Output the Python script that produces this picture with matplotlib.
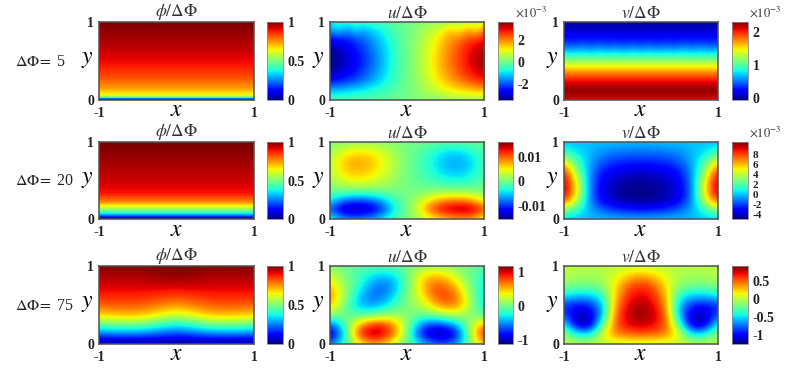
import numpy as np
import matplotlib
matplotlib.use('Agg')
import matplotlib.pyplot as plt
from matplotlib.cm import ScalarMappable
from matplotlib.colors import Normalize

plt.rcParams['font.family'] = ['Liberation Serif', 'DejaVu Serif']
plt.rcParams['mathtext.fontset'] = 'stix'

W, H = 789, 379

row_labels = ['5', '20', '75']
titles = [r'$\phi/\Delta\Phi$', r'$u/\Delta\Phi$', r'$v/\Delta\Phi$']

phi1_y = [0, 0.01, 0.02, 0.04, 0.065, 0.16, 0.3, 0.46, 0.7, 1.0]
phi1_v = [0, 0.1, 0.25, 0.5, 0.64, 0.75, 0.83, 0.89, 0.95, 1.0]
phi2_y = [0, 0.02, 0.07, 0.115, 0.17, 0.225, 0.34, 0.49, 0.7, 0.96, 1.0]
phi2_v = [0, 0.11, 0.35, 0.5, 0.64, 0.77, 0.89, 0.93, 0.96, 1.0, 1.0]

# grids below: first row is y=1, last row is y=0
phi3 = [
    [1.0] * 13,
    [0.97, 0.96, 0.96, 0.965, 0.97, 0.98, 0.99, 0.98, 0.97, 0.965, 0.96, 0.96, 0.97],
    [0.93, 0.93, 0.93, 0.93, 0.935, 0.94, 0.94, 0.94, 0.935, 0.93, 0.93, 0.93, 0.93],
    [0.88, 0.88, 0.88, 0.88, 0.87, 0.86, 0.85, 0.86, 0.87, 0.88, 0.88, 0.88, 0.88],
    [0.81, 0.82, 0.82, 0.82, 0.80, 0.78, 0.76, 0.78, 0.80, 0.82, 0.82, 0.82, 0.81],
    [0.70, 0.71, 0.72, 0.72, 0.69, 0.64, 0.61, 0.64, 0.69, 0.72, 0.72, 0.71, 0.70],
    [0.47, 0.49, 0.50, 0.49, 0.46, 0.41, 0.38, 0.41, 0.46, 0.49, 0.50, 0.49, 0.47],
    [0.23, 0.24, 0.24, 0.24, 0.23, 0.20, 0.19, 0.20, 0.23, 0.24, 0.24, 0.24, 0.23],
    [0.0] * 13,
]

u1 = [
    [-.9, -.4, -.7, -.3, -.6, -.3, -.4, -.2, -.1, 0, .1, .2, .3, .3, .6, .3, .7, .4, 1.0],
    [-1.6, -1.2, -1.7, -1.2, -1.5, -1.1, -.9, -.5, -.2, 0, .2, .5, .8, 1.1, 1.7, 1.3, 2.0, 1.5, 2.3],
    [-2.8, -2.7, -2.5, -2.2, -1.9, -1.5, -1.1, -.7, -.3, 0, .3, .65, 1.05, 1.5, 1.9, 2.2, 2.6, 2.8, 3.1],
    [-3.3, -3.1, -2.8, -2.5, -2.1, -1.7, -1.25, -.8, -.35, 0, .33, .72, 1.15, 1.6, 2.05, 2.45, 2.85, 3.1, 3.4],
    [-3.4, -3.2, -2.9, -2.6, -2.2, -1.8, -1.3, -.8, -.4, 0, .35, .75, 1.2, 1.7, 2.1, 2.5, 2.9, 3.2, 3.5],
    [-3.2, -3.0, -2.75, -2.45, -2.05, -1.65, -1.2, -.75, -.35, 0, .33, .7, 1.15, 1.6, 2.0, 2.4, 2.75, 3.05, 3.35],
    [-2.6, -2.45, -2.25, -2.0, -1.7, -1.35, -1.0, -.65, -.3, 0, .3, .6, 1.0, 1.4, 1.75, 2.05, 2.35, 2.6, 2.8],
    [-1.2, -1.15, -1.05, -.95, -.8, -.65, -.5, -.35, -.15, 0, .2, .45, .7, .95, 1.15, 1.3, 1.45, 1.55, 1.6],
    [-.3, -.3, -.25, -.25, -.2, -.2, -.15, -.1, -.05, 0, .1, .15, .2, .25, .3, .3, .35, .35, .35],
]

v1 = [
    [.02] * 19,
    [.09, .12, .08, .12, .08, .12, .08, .12, .08, .11, .08, .12, .08, .12, .08, .12, .08, .12, .09],
    [.27, .22, .28, .22, .28, .22, .27, .22, .27, .22, .27, .22, .27, .22, .28, .22, .28, .22, .27],
    [.48, .42, .5, .42, .5, .42, .47, .42, .47, .42, .47, .42, .47, .42, .5, .42, .5, .42, .48],
    [.82, .77, .83, .77, .83, .78, .82, .78, .82, .78, .82, .78, .82, .78, .83, .77, .83, .77, .82],
    [1.2] * 19,
    [1.58] * 19,
    [1.92] * 19,
    [2.17] * 19,
    [2.3] * 19,
    [2.05] * 19,
]

u2 = [
    [.5, .8, 1, 1, .8, .4, 0, -.2, -.5, -.7, -.7, -.5, -.2],
    [1.5, 4, 5.5, 5.3, 3.8, 1.8, 0, -1, -3, -4.5, -4.8, -3.2, -1],
    [2.5, 6.5, 7.8, 7.2, 5, 2.5, 0, -1.5, -4, -5.8, -6.3, -4.8, -1.5],
    [2.5, 6, 7.2, 6.5, 4.5, 2.2, 0, -1.5, -3.5, -5.2, -5.8, -4.2, -1.5],
    [1.5, 4, 5, 4.5, 3, 1.5, 0, -1, -2, -3, -3.5, -2.5, -1],
    [0, .5, .5, .5, .5, .5, 0, 0, .3, .3, .3, .3, 0],
    [-3, -7, -8.5, -8, -5.5, -2, 0, 3, 6, 8, 8.5, 7, 3],
    [-9, -15, -15.3, -14.5, -11, -4, 0, 5, 12, 15, 16, 16, 11],
    [-2, -6, -7, -6, -4, -1, 0, 2, 4, 6, 7, 7, 3],
]

v2 = [
    [0] * 13,
    [1.5, .3, -.1, -.8, -1, -1.2, -1.2, -1.2, -1, -.8, -.1, .3, 1.5],
    [5, 1.8, -.3, -1.6, -2.2, -2.4, -2.5, -2.4, -2.2, -1.6, -.3, 1.8, 5],
    [8.8, 3, -.7, -2.7, -3.3, -3.6, -3.7, -3.6, -3.3, -2.7, -.7, 3, 8.8],
    [9.8, 5, -1, -3.3, -4, -4.4, -4.5, -4.4, -4, -3.3, -1, 5, 9.8],
    [10.2, 5.5, -1.1, -3.5, -4.2, -4.7, -4.8, -4.7, -4.2, -3.5, -1.1, 5.5, 10.2],
    [8.5, 4.5, -1, -3.4, -4.2, -4.6, -4.7, -4.6, -4.2, -3.4, -1, 4.5, 8.5],
    [3.5, 1.5, -.4, -1.5, -2.4, -2.8, -3, -2.8, -2.4, -1.5, -.4, 1.5, 3.5],
    [0] * 13,
]

u3 = [
    [.05, 0, -.03, -.05, -.05, -.03, 0, .05, .08, .08, .05, 0, -.03],
    [.25, .05, -.1, -.25, -.35, -.3, 0, .35, .5, .4, .15, -.05, -.2],
    [.5, .15, -.1, -.4, -.6, -.45, -.05, .45, .75, .7, .4, 0, -.3],
    [.65, .25, -.25, -.55, -.6, -.35, .05, .35, .75, .85, .6, .05, -.35],
    [.55, .1, -.35, -.5, -.4, -.15, .05, .2, .5, .75, .65, .1, -.3],
    [.15, 0, -.1, -.1, 0, .1, .05, 0, .05, .2, .2, .05, -.15],
    [-.6, -.2, .4, .8, .9, .6, .1, -.5, -.7, -.6, -.3, .2, .6],
    [-1.05, -.5, .7, 1.15, 1.1, .7, 0, -.8, -1.1, -1.1, -.75, .3, 1.05],
    [-.5, -.2, .2, .5, .5, .2, 0, -.3, -.5, -.6, -.4, .1, .5],
]

v3 = [
    [0] * 13,
    [-.02, -.05, -.07, -.05, .05, .2, .3, .2, .05, -.05, -.07, -.05, -.02],
    [-.12, -.17, -.17, -.1, .15, .5, .6, .5, .15, -.1, -.17, -.17, -.12],
    [-.4, -.5, -.5, -.38, .25, .62, .72, .62, .25, -.38, -.5, -.5, -.4],
    [-.85, -.95, -.9, -.6, .35, .72, .82, .72, .35, -.6, -.9, -.95, -.85],
    [-.8, -1.15, -1.1, -.65, .48, .78, .88, .78, .48, -.65, -1.1, -1.15, -.8],
    [-.4, -1.15, -1.2, -.3, .5, .72, .78, .72, .5, -.3, -1.2, -1.15, -.4],
    [-.1, -.4, -.5, .1, .42, .5, .52, .5, .42, .1, -.5, -.4, -.1],
    [0] * 13,
]

# (grid, vmin, vmax, colorbar ticks, colorbar tick labels, has x10^-3)
panels = [
    [(None, 0, 1, [0, 0.5, 1], ['0', '0.5', '1'], False),
     (u1, -3.4, 3.6, [-2, 0, 2], ['-2', '0', '2'], True),
     (v1, -0.05, 2.3, [0, 1, 2], ['0', '1', '2'], True)],
    [(None, 0, 1, [0, 0.5, 1], ['0', '0.5', '1'], False),
     (u2, -15.3, 16, [-10, 0, 10], ['-0.01', '0', '0.01'], False),
     (v2, -4.9, 10.5, [-4, -2, 0, 2, 4, 6, 8], ['-4', '-2', '0', '2', '4', '6', '8'], True)],
    [(phi3, 0, 1, [0, 0.5, 1], ['0', '0.5', '1'], False),
     (u3, -1.11, 1.18, [-1, 0, 1], ['-1', '0', '1'], False),
     (v3, -1.24, 0.9, [-1, -0.5, 0, 0.5], ['-1', '-0.5', '0', '0.5'], False)],
]
profiles = [(phi1_y, phi1_v), (phi2_y, phi2_v), None]

# pixel boxes of the panels
col_x = [(99, 254, 267, 283), (330, 484, 498, 513), (564, 718, 732, 748)]
row_y = [(22, 100), (142, 219), (266, 344)]
edge = '#505050'


def px_box(x0, x1, y0, y1):
    return [x0 / W, 1 - y1 / H, (x1 - x0) / W, (y1 - y0) / H]


fig = plt.figure(figsize=(W / 100, H / 100), dpi=100)

for r in range(3):
    y0, y1 = row_y[r]
    fig.text(15 / W, 1 - ((y0 + y1) / 2 + 1) / H, r'$\Delta\Phi\!=$' + ' ' + row_labels[r],
             fontsize=11.5, va='center', ha='left', color='#222222')
    for c in range(3):
        grid, vmin, vmax, ticks, tick_labels, has_exp = panels[r][c]
        x0, x1, cx0, cx1 = col_x[c]
        ax = fig.add_axes(px_box(x0, x1, y0, y1))
        if grid is None:
            py, pv = profiles[r]
            ax.contourf([-1, 1], py, [[v, v] for v in pv], levels=np.linspace(0, 1, 129),
                        cmap='jet', vmin=vmin, vmax=vmax)
        else:
            z = np.array(grid, dtype=float)
            dx = 2 / (z.shape[1] - 1) / 2
            dy = 1 / (z.shape[0] - 1) / 2
            ax.imshow(z, cmap='jet', vmin=vmin, vmax=vmax, interpolation='bicubic',
                      extent=[-1 - dx, 1 + dx, -dy, 1 + dy], aspect='auto', origin='upper')
        ax.set_xlim(-1, 1)
        ax.set_ylim(0, 1)
        ax.set_xticks([-1, 1])
        ax.set_yticks([0, 1])
        ax.set_xticklabels(['-1', '1'], fontsize=10, fontweight='bold')
        ax.set_yticklabels(['0', '1'], fontsize=10, fontweight='bold')
        ax.tick_params(length=0, colors='#222222')
        ax.tick_params(axis='x', pad=5)
        ax.tick_params(axis='y', pad=3.5)
        for s in ax.spines.values():
            s.set_color(edge)
            s.set_linewidth(1.1)
        ax.set_title(titles[c], fontsize=12.5, pad=2.5, color='#333333')
        fig.text((x0 + x1) / 2 / W, 1 - (y1 + 11) / H, r'$x$', fontsize=17, ha='center', va='center')
        fig.text((x0 - 12) / W, 1 - ((y0 + y1) / 2 - 1) / H, r'$y$', fontsize=17, ha='center', va='center')

        cax = fig.add_axes(px_box(cx0, cx1, y0, y1))
        sm = ScalarMappable(norm=Normalize(vmin, vmax), cmap='jet')
        cb = fig.colorbar(sm, cax=cax)
        cb.set_ticks(ticks)
        cb.set_ticklabels(tick_labels)
        label_size = 8 if len(ticks) > 4 else 10
        cb.ax.tick_params(length=0, pad=3.5, labelsize=label_size, colors='#222222')
        for t in cb.ax.get_yticklabels():
            t.set_fontweight('bold')
        cb.outline.set_edgecolor('#888888')
        cb.outline.set_linewidth(0.6)
        if has_exp:
            fig.text((cx0 + 17) / W, 1 - (y0 - 10) / H, r'$\times 10^{-3}$', fontsize=9,
                     ha='left', va='center', color='#333333')

fig.savefig('out.png', dpi=100)
